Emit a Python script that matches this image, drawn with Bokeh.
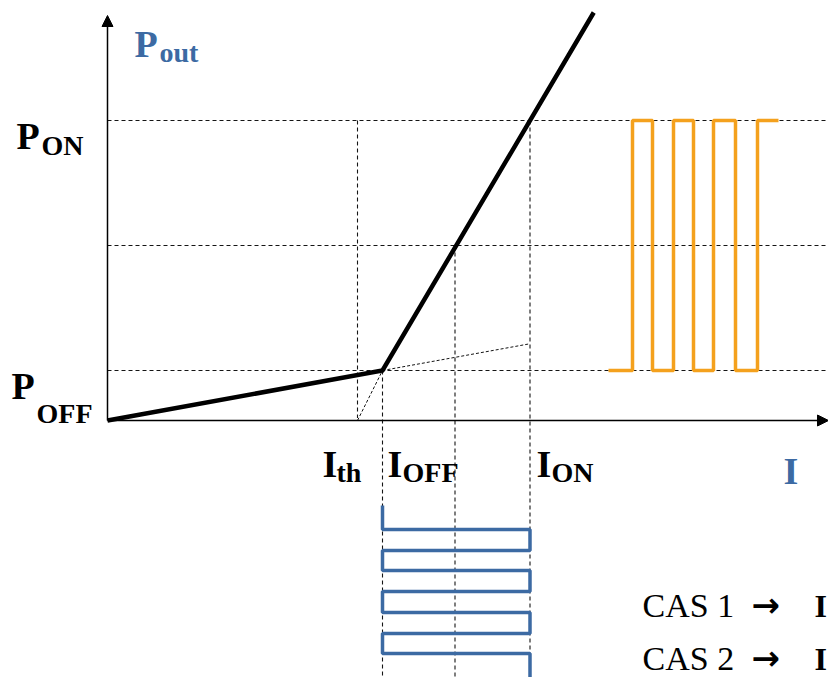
from bokeh.plotting import figure
from bokeh.models import Range1d, Arrow, NormalHead
from bokeh.core.properties import value
from bokeh.embed import file_html
from bokeh.resources import INLINE

# ---- data (arbitrary units: current I, optical power P) ----
I_th, I_off, I_mid, I_on = 1.0, 1.1, 1.39, 1.69
P_off, P_mid, P_on = 0.2, 0.7, 1.2
I_max = 2.884
P_top = 1.62

# L-I characteristic
li_I = [0.0, 1.1, 1.945]
li_P = [0.0, 0.2, 1.632]

# extrapolations (thin dashed)
ext_th_I = [1.0, 1.1]
ext_th_P = [0.0, 0.2]
ext_sp_I = [1.1, 1.69]
ext_sp_P = [0.2, 0.307]

# optical output square wave (time drawn along I axis)
out_t = [2.004, 2.1, 2.1, 2.18, 2.18, 2.264, 2.264, 2.344, 2.344, 2.424, 2.424, 2.512, 2.512, 2.6, 2.6, 2.684]
out_P = [0.2, 0.2, 1.2, 1.2, 0.2, 0.2, 1.2, 1.2, 0.2, 0.2, 1.2, 1.2, 0.2, 0.2, 1.2, 1.2]

# modulating current square wave (time drawn downward)
in_I = [1.1, 1.1, 1.69, 1.69, 1.1, 1.1, 1.69, 1.69, 1.1, 1.1, 1.69, 1.69, 1.1, 1.1, 1.69, 1.69]
in_t = [-0.34, -0.436, -0.436, -0.52, -0.52, -0.6, -0.6, -0.684, -0.684, -0.768, -0.768, -0.852, -0.852, -0.932, -0.932, -1.03]

BLUE = "#3C6AA3"
ORANGE = "#F4A11D"
SERIF = "Liberation Serif"
DARK = "#151515"

p = figure(width=828, height=677, output_backend="svg", toolbar_location=None,
           x_range=Range1d(-0.428, 2.884), y_range=Range1d(-1.028, 1.68),
           x_axis_type=None, y_axis_type=None, min_border=0,
           outline_line_color=None, background_fill_color="white")
p.grid.visible = False

dash = "4 3"
# horizontal dashed reference lines
for lvl in [P_on, P_mid, P_off]:
    p.line([0, I_max], [lvl, lvl], line_color=DARK, line_width=1.1, line_dash=dash)
# vertical dashed reference lines
p.line([I_th, I_th], [P_on, 0.01], line_color=DARK, line_width=1.1, line_dash=dash)
p.line([I_off, I_off], [P_off, -1.03], line_color=DARK, line_width=1.1, line_dash=dash)
p.line([I_mid, I_mid], [P_mid, -1.03], line_color=DARK, line_width=1.1, line_dash=dash)
p.line([I_on, I_on], [P_on, -1.03], line_color=DARK, line_width=1.1, line_dash=dash)

# thin dashed extrapolations
p.line(ext_th_I, ext_th_P, line_color=DARK, line_width=1, line_dash="3 2")
p.line(ext_sp_I, ext_sp_P, line_color=DARK, line_width=1, line_dash="3 2")

# axes with arrows
p.add_layout(Arrow(end=NormalHead(size=11, fill_color="black", line_color="black"),
                   x_start=0, y_start=0, x_end=0, y_end=P_top, line_width=1.5, line_color="black"))
p.add_layout(Arrow(end=NormalHead(size=11, fill_color="black", line_color="black"),
                   x_start=0, y_start=0, x_end=I_max, y_end=0, line_width=1.5, line_color="black"))

# L-I curve
p.line(li_I, li_P, line_color="black", line_width=4.5, line_join="miter")

# square waves
p.line(out_t, out_P, line_color=ORANGE, line_width=3.5)
p.line(in_I, in_t, line_color=BLUE, line_width=3.5)

# ---- labels ----
def lab(x, y, txt, size, color="black", bold=True, font=SERIF):
    p.text(x=[x], y=[y], text=[txt], text_font=value(font), text_font_size=f"{size}px",
           text_font_style="bold" if bold else "normal", text_color=color,
           text_baseline="alphabetic", text_align="left")

def px(x):
    return (x - 107) / 250.0

def py(y):
    return (420 - y) / 250.0

big, sub = 38, 28
# Pout
lab(px(134), py(43), "P", big, BLUE)
lab(px(159), py(52), "out", sub, BLUE)
# PON
lab(px(16), py(135), "P", big)
lab(px(41), py(145), "ON", sub)
# POFF
lab(px(11), py(385), "P", big)
lab(px(36), py(413), "OFF", sub)
# Ith, IOFF, ION
lab(px(322), py(463), "I", big)
lab(px(336), py(472), "th", sub)
lab(px(387), py(463), "I", big)
lab(px(402), py(472), "OFF", sub)
lab(px(536), py(463), "I", big)
lab(px(551), py(472), "ON", sub)
# I axis label
lab(px(783), py(470), "I", big, BLUE)
# CAS lines
lab(px(642), py(605), "CAS 1", 34, bold=False)
lab(px(642), py(658), "CAS 2", 34, bold=False)
lab(px(751), py(604), "\u2192", 34, bold=True, font="DejaVu Sans")
lab(px(751), py(657), "\u2192", 34, bold=True, font="DejaVu Sans")
lab(px(814), py(605), "I", 32)
lab(px(814), py(658), "I", 32)

open("out.html", "w").write(file_html(p, INLINE))
